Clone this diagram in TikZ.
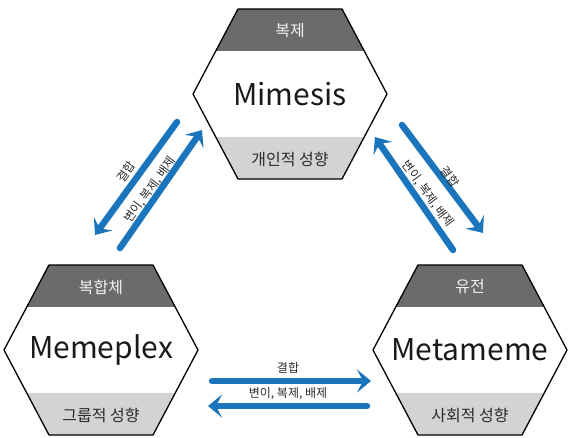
\documentclass[tikz,border=0pt]{standalone}
\usepackage{fontspec}
\setmainfont{Noto Sans CJK KR}
\usetikzlibrary{arrows.meta}

\definecolor{memeblue}{HTML}{1A75BC}
\definecolor{banddark}{HTML}{6B6B6B}
\definecolor{bandlight}{HTML}{D3D3D3}
\definecolor{labeltext}{HTML}{2B2B2B}

\tikzset{
  hexline/.style={draw=black, line width=1.3pt, line join=miter},
  bigname/.style={font=\fontsize{30}{34}\selectfont, text=black!90, inner sep=0pt},
  toplabel/.style={font=\fontsize{16}{19}\selectfont, text=white!94!black, inner sep=0pt},
  botlabel/.style={font=\fontsize{16}{19}\selectfont, text=labeltext, inner sep=0pt},
  flowlabel/.style={font=\fontsize{12}{14}\selectfont, text=labeltext, inner sep=0pt},
  flow/.style={draw=memeblue, line width=6.5pt, line cap=round,
    -{Stealth[length=14pt, width=23pt, inset=6pt]}},
}

% hexagon with a dark title band on top and a light band below
% #1 name, #2 cx, #3 cy, #4 title, #5 top label, #6 bottom label
\newcommand\memehex[6]{%
  \begin{scope}[shift={(#2,#3)}]
    \fill[white] (-97,0) -- (-52,-85) -- (52,-85) -- (97,0) -- (52,85) -- (-52,85) -- cycle;
    \begin{scope}
      \clip (-97,0) -- (-52,-85) -- (52,-85) -- (97,0) -- (52,85) -- (-52,85) -- cycle;
      \fill[banddark] (-100,-90) rectangle (100,-43);
      \fill[bandlight] (-100,43) rectangle (100,90);
    \end{scope}
    \draw[hexline] (-97,0) -- (-52,-85) -- (52,-85) -- (97,0) -- (52,85) -- (-52,85) -- cycle;
    \node[bigname] (#1) at (0,0) {#4};
    \node[toplabel] (#1-top) at (0,-63) {#5};
    \node[botlabel] (#1-bot) at (0,65) {#6};
  \end{scope}}

\begin{document}
\begin{tikzpicture}[x=1pt, y=-1pt]
  \useasboundingbox (0,0) rectangle (569,437);

  \memehex{mimesis}{290}{94}{Mimesis}{복제}{개인적 성향}
  \memehex{memeplex}{101}{350}{Memeplex}{복합체}{그룹적 성향}
  \memehex{metameme}{470}{350}{Metameme}{유전}{사회적 성향}

  % arrow end points between the hexagons
  \coordinate (L1s) at (177,122); \coordinate (L1e) at (95,235);
  \coordinate (L2s) at (120,248); \coordinate (L2e) at (202,130);
  \coordinate (R1s) at (402,125); \coordinate (R1e) at (483,233);
  \coordinate (R2s) at (453,250); \coordinate (R2e) at (375,137);
  \coordinate (B1s) at (212,381); \coordinate (B1e) at (371,381);
  \coordinate (B2s) at (367,406); \coordinate (B2e) at (208,406);

  \draw[flow] (L1s) -- (L1e);
  \draw[flow] (L2s) -- (L2e);
  \draw[flow] (R1s) -- (R1e);
  \draw[flow] (R2s) -- (R2e);
  \draw[flow] (B1s) -- (B1e);
  \draw[flow] (B2s) -- (B2e);

  \node[flowlabel, rotate=54] (lc) at (126,172) {결합};
  \node[flowlabel, rotate=54] (lv) at (150,190) {변이, 복제, 배제};
  \node[flowlabel, rotate=-54] (rc) at (450,177) {결합};
  \node[flowlabel, rotate=-54] (rv) at (428,194) {변이, 복제, 배제};
  \node[flowlabel] (bc) at (288,368) {결합};
  \node[flowlabel] (bv) at (288,394) {변이, 복제, 배제};
\end{tikzpicture}
\end{document}
